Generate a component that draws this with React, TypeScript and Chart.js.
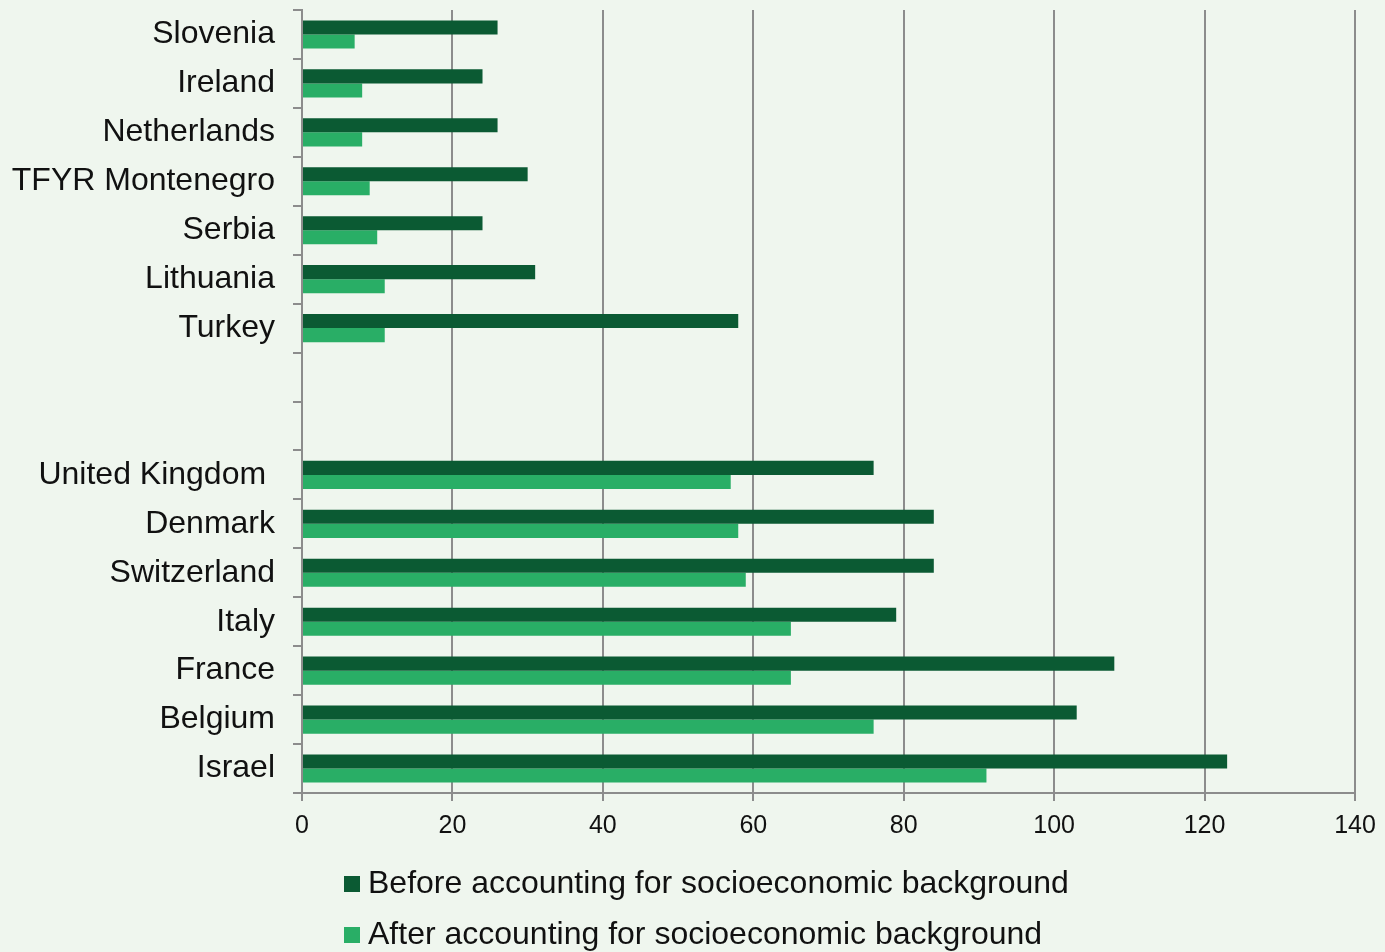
import React, { useEffect, useRef } from 'react';
import { Chart, registerables } from 'chart.js';

Chart.register(...registerables);

const countries = [
  'Slovenia',
  'Ireland',
  'Netherlands',
  'TFYR Montenegro',
  'Serbia',
  'Lithuania',
  'Turkey',
  ' ',
  '  ',
  'United Kingdom ',
  'Denmark',
  'Switzerland',
  'Italy',
  'France',
  'Belgium',
  'Israel',
];
const beforeValues = [26, 24, 26, 30, 24, 31, 58, null, null, 76, 84, 84, 79, 108, 103, 123];
const afterValues = [7, 8, 8, 9, 10, 11, 11, null, null, 57, 58, 59, 65, 65, 76, 91];
const seriesLabels = [
  'Before accounting for socioeconomic background',
  'After accounting for socioeconomic background',
];
const xMin = 0;
const xMax = 140;
const xStep = 20;

const FONT = '"Liberation Sans", Arial, sans-serif';
const DARK = '#0b5a33';
const LIGHT = '#29ae66';
const BG = '#eff6ee';
const GRID = '#8c8c8c';

const legendPlugin = {
  id: 'stackedLegend',
  afterDraw(chart: any) {
    const ctx = chart.ctx;
    ctx.save();
    ctx.font = `32px ${FONT}`;
    ctx.textBaseline = 'middle';
    ctx.textAlign = 'left';
    chart.data.datasets.forEach((ds: any, i: number) => {
      const y = 884 + i * 51;
      ctx.fillStyle = ds.backgroundColor;
      ctx.fillRect(344, y - 8, 16, 16);
      ctx.fillStyle = '#111111';
      ctx.fillText(ds.label, 368, y);
    });
    ctx.restore();
  },
};

export default function App() {
  const ref = useRef<HTMLCanvasElement | null>(null);

  useEffect(() => {
    document.body.style.margin = '0';
    document.body.style.background = BG;
    if (!ref.current) return;
    const chart = new Chart(ref.current, {
      type: 'bar',
      data: {
        labels: countries,
        datasets: [
          {
            label: seriesLabels[0],
            data: beforeValues,
            backgroundColor: DARK,
            borderWidth: 0,
            barPercentage: 1,
            categoryPercentage: 0.575,
          },
          {
            label: seriesLabels[1],
            data: afterValues,
            backgroundColor: LIGHT,
            borderWidth: 0,
            barPercentage: 1,
            categoryPercentage: 0.575,
          },
        ],
      },
      plugins: [legendPlugin],
      options: {
        indexAxis: 'y',
        animation: false,
        responsive: false,
        maintainAspectRatio: false,
        devicePixelRatio: 1,
        layout: { padding: { top: 10, right: 30, left: 0, bottom: 0 } },
        plugins: {
          legend: { display: false },
          tooltip: { enabled: false },
        },
        scales: {
          x: {
            type: 'linear',
            min: xMin,
            max: xMax,
            ticks: {
              stepSize: xStep,
              color: '#111111',
              font: { family: FONT, size: 25 },
              padding: 10,
            },
            grid: {
              color: GRID,
              lineWidth: 2,
              drawTicks: true,
              tickLength: 8,
              tickColor: GRID,
            },
            border: { color: GRID, width: 2 },
            afterFit: (s: any) => {
              s.height = 952 - 793;
              s.paddingLeft = 0;
              s.paddingRight = 0;
            },
          },
          y: {
            type: 'category',
            ticks: {
              color: '#111111',
              font: { family: FONT, size: 32 },
              padding: 18,
              autoSkip: false,
            },
            grid: {
              drawOnChartArea: false,
              drawTicks: true,
              tickLength: 9,
              tickColor: GRID,
              lineWidth: 2,
              offset: true,
            },
            border: { color: GRID, width: 2 },
            afterFit: (s: any) => {
              s.width = 302;
              s.paddingTop = 0;
              s.paddingBottom = 0;
            },
          },
        },
      },
    });
    return () => chart.destroy();
  }, []);

  return (
    <div style={{ width: 1385, height: 952, background: BG }}>
      <canvas ref={ref} width={1385} height={952} style={{ display: 'block' }} />
    </div>
  );
}
